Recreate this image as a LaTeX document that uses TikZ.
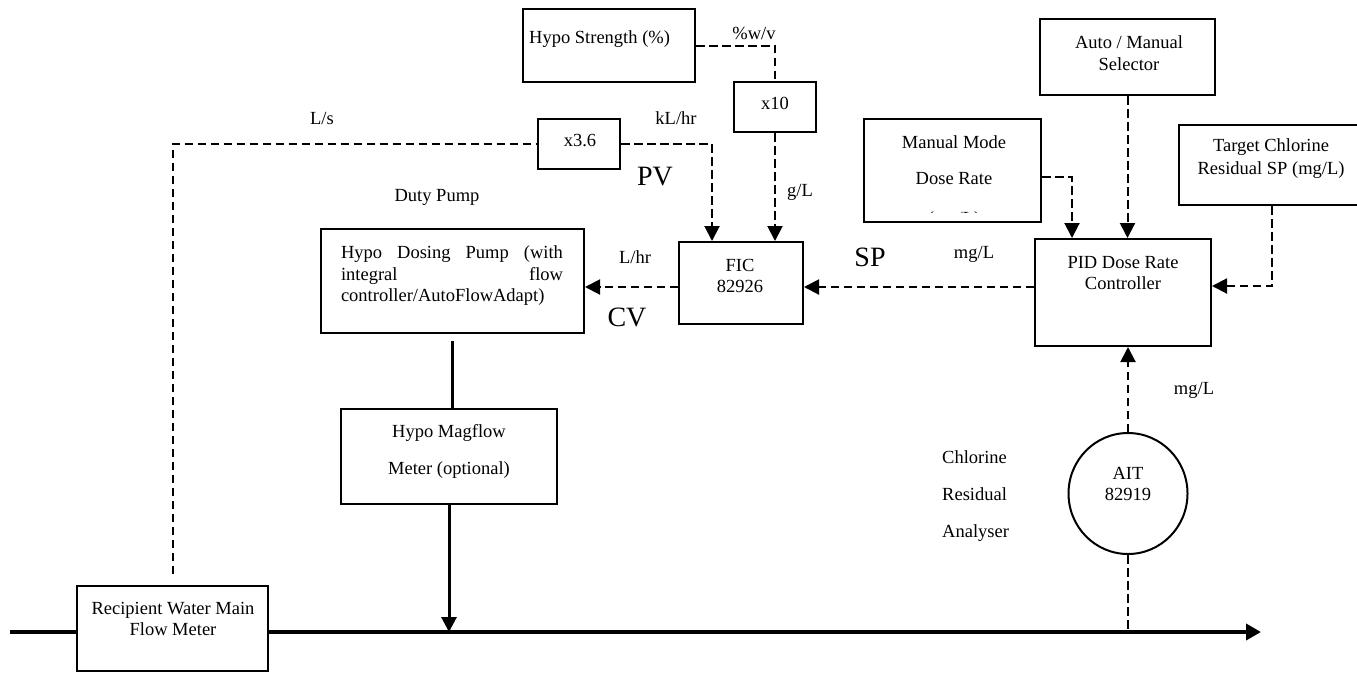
\documentclass[tikz,border=0pt]{standalone}
\usepackage{fontspec}
\setmainfont{Liberation Serif}
\usetikzlibrary{arrows.meta,shapes.geometric}
\begin{document}
\begin{tikzpicture}[x=1pt,y=-1pt,
  box/.style={draw, line width=2pt, inner sep=0pt, fill=white},
  sig/.style={line width=2pt, dash pattern=on 8.5pt off 4.5pt},
  arr/.style={-{Triangle[width=15pt,length=15pt]}},
  txt/.style={font=\fontsize{18.5}{21.5}\selectfont, inner sep=0pt, align=center},
  txtb/.style={font=\fontsize{18.5}{23}\selectfont, inner sep=0pt, align=center},
  wide/.style={font=\fontsize{18.5}{37}\selectfont, inner sep=0pt, align=center},
  big/.style={font=\fontsize{28}{30}\selectfont, inner sep=0pt},
  pipe/.style={line width=4pt},
  flow/.style={line width=3pt}]
\useasboundingbox (0,0) rectangle (1357,673);

% pipe
\coordinate (pin) at (10,632);
\coordinate (pout) at (1261,632);
\draw[pipe, -{Triangle[width=16pt,length=15pt]}] (pin) -- (pout);

% boxes
\node[box, minimum width=172pt, minimum height=73pt] (hs) at (609,45.5) {};
\node[box, minimum width=82pt, minimum height=50pt] (x36) at (579,144) {};
\node[box, minimum width=82pt, minimum height=50pt] (x10) at (775,107) {};
\node[box, minimum width=263pt, minimum height=104pt] (dp) at (452.5,281) {};
\node[box, minimum width=124pt, minimum height=82pt] (fic) at (741,283) {};
\node[box, minimum width=177pt, minimum height=103pt] (mm) at (952.5,170.5) {};
\node[box, minimum width=175pt, minimum height=76pt] (am) at (1127.5,57) {};
\node[box, minimum width=186pt, minimum height=80pt] (tc) at (1272,165) {};
\node[box, minimum width=176pt, minimum height=107pt] (pid) at (1123,292.5) {};
\node[box, minimum width=216pt, minimum height=95pt] (mf) at (449,456.5) {};
\node[box, minimum width=191pt, minimum height=85pt] (rw) at (172.5,628.5) {};
\node[box, ellipse, minimum width=119pt, minimum height=121pt] (ait) at (1128,493.5) {};

% texts
\node[txt, anchor=west] (hst) at (529,39) {Hypo Strength (\%)};
\node[txt] (wv) at (754,33) {\%w/v};
\node[txt] (x10t) at (775,103) {x10};
\node[txt] (x36t) at (580,141) {x3.6};
\node[txt] (ls) at (322,118) {L/s};
\node[txt] (klhr) at (676,118) {kL/hr};
\node[big] (pv) at (655,177) {PV};
\node[txt] (duty) at (437,197) {Duty Pump};
\node[txt, align=left] (dpt) at (452,276) {\makebox[222pt][s]{Hypo Dosing Pump (with}\\\makebox[222pt]{integral\hfill flow}\\controller/AutoFlowAdapt)};
\node[txt] (lhr) at (635,257) {L/hr};
\node[big] (cv) at (627,317) {CV};
\node[txt] (gl) at (800,192) {g/L};
\node[txt] (fict) at (740,276) {FIC\\82926};
\node[big] (sp) at (870,257) {SP};
\node[txt] (mgl1) at (974,254) {mg/L};
\node[txt] (mmt1) at (954,142) {Manual Mode};
\node[txt] (mmt2) at (954,179) {Dose Rate};
\begin{scope}
\clip (mm.north west) rectangle ([yshift=11pt]mm.south east);
\node[txt, anchor=base] (mmt3) at (954,224) {(mg/L)};
\end{scope}
\node[txt] (amt) at (1129,53) {Auto / Manual\\Selector};
\node[txtb] (tct) at (1271,159) {Target Chlorine\\Residual SP (mg/L)};
\node[txt] (pidt) at (1123,273) {PID Dose Rate\\Controller};
\node[txt] (mgl2) at (1194,390) {mg/L};
\node[txt] (aitt) at (1128,484) {AIT\\82919};
\node[wide, align=left, anchor=west] (cra) at (942,496.5) {Chlorine\\Residual\\Analyser};
\node[wide] (mft) at (449,451) {Hypo Magflow\\Meter (optional)};
\node[txt] (rwt) at (173,619) {Recipient Water Main\\Flow Meter};

% signal connectors
\draw[sig] (hs.east) -| (x10.north);
\draw[sig, arr] (x10.south) -- (x10.south |- fic.north);
\draw[sig, shorten <=11pt] (rw.north) |- (x36.west);
\draw[sig, arr] (x36.east) -| ([xshift=-29pt]fic.north);
\draw[sig, arr] ([yshift=-4pt]fic.west) -- ([yshift=-4pt]fic.west -| dp.east);
\draw[sig, arr] ([yshift=5.5pt]pid.west) -- ([yshift=5.5pt]pid.west -| fic.east);
\draw[sig, arr] ([yshift=-6.5pt]mm.east) -| ([xshift=-51pt]pid.north);
\draw[sig, arr] (am.south) -- (am.south |- pid.north);
\draw[sig, arr] (tc.south) |- ([yshift=6.5pt]pid.east);
\draw[sig, arr] (ait.north) -- (ait.north |- pid.south);
\draw[sig] (ait.south) -- (ait.south |- pin);

% process connectors
\draw[flow, shorten <=7pt] (dp.south) -- (dp.south |- mf.north);
\draw[flow, arr] (mf.south) -- (mf.south |- pin);
\end{tikzpicture}
\end{document}
